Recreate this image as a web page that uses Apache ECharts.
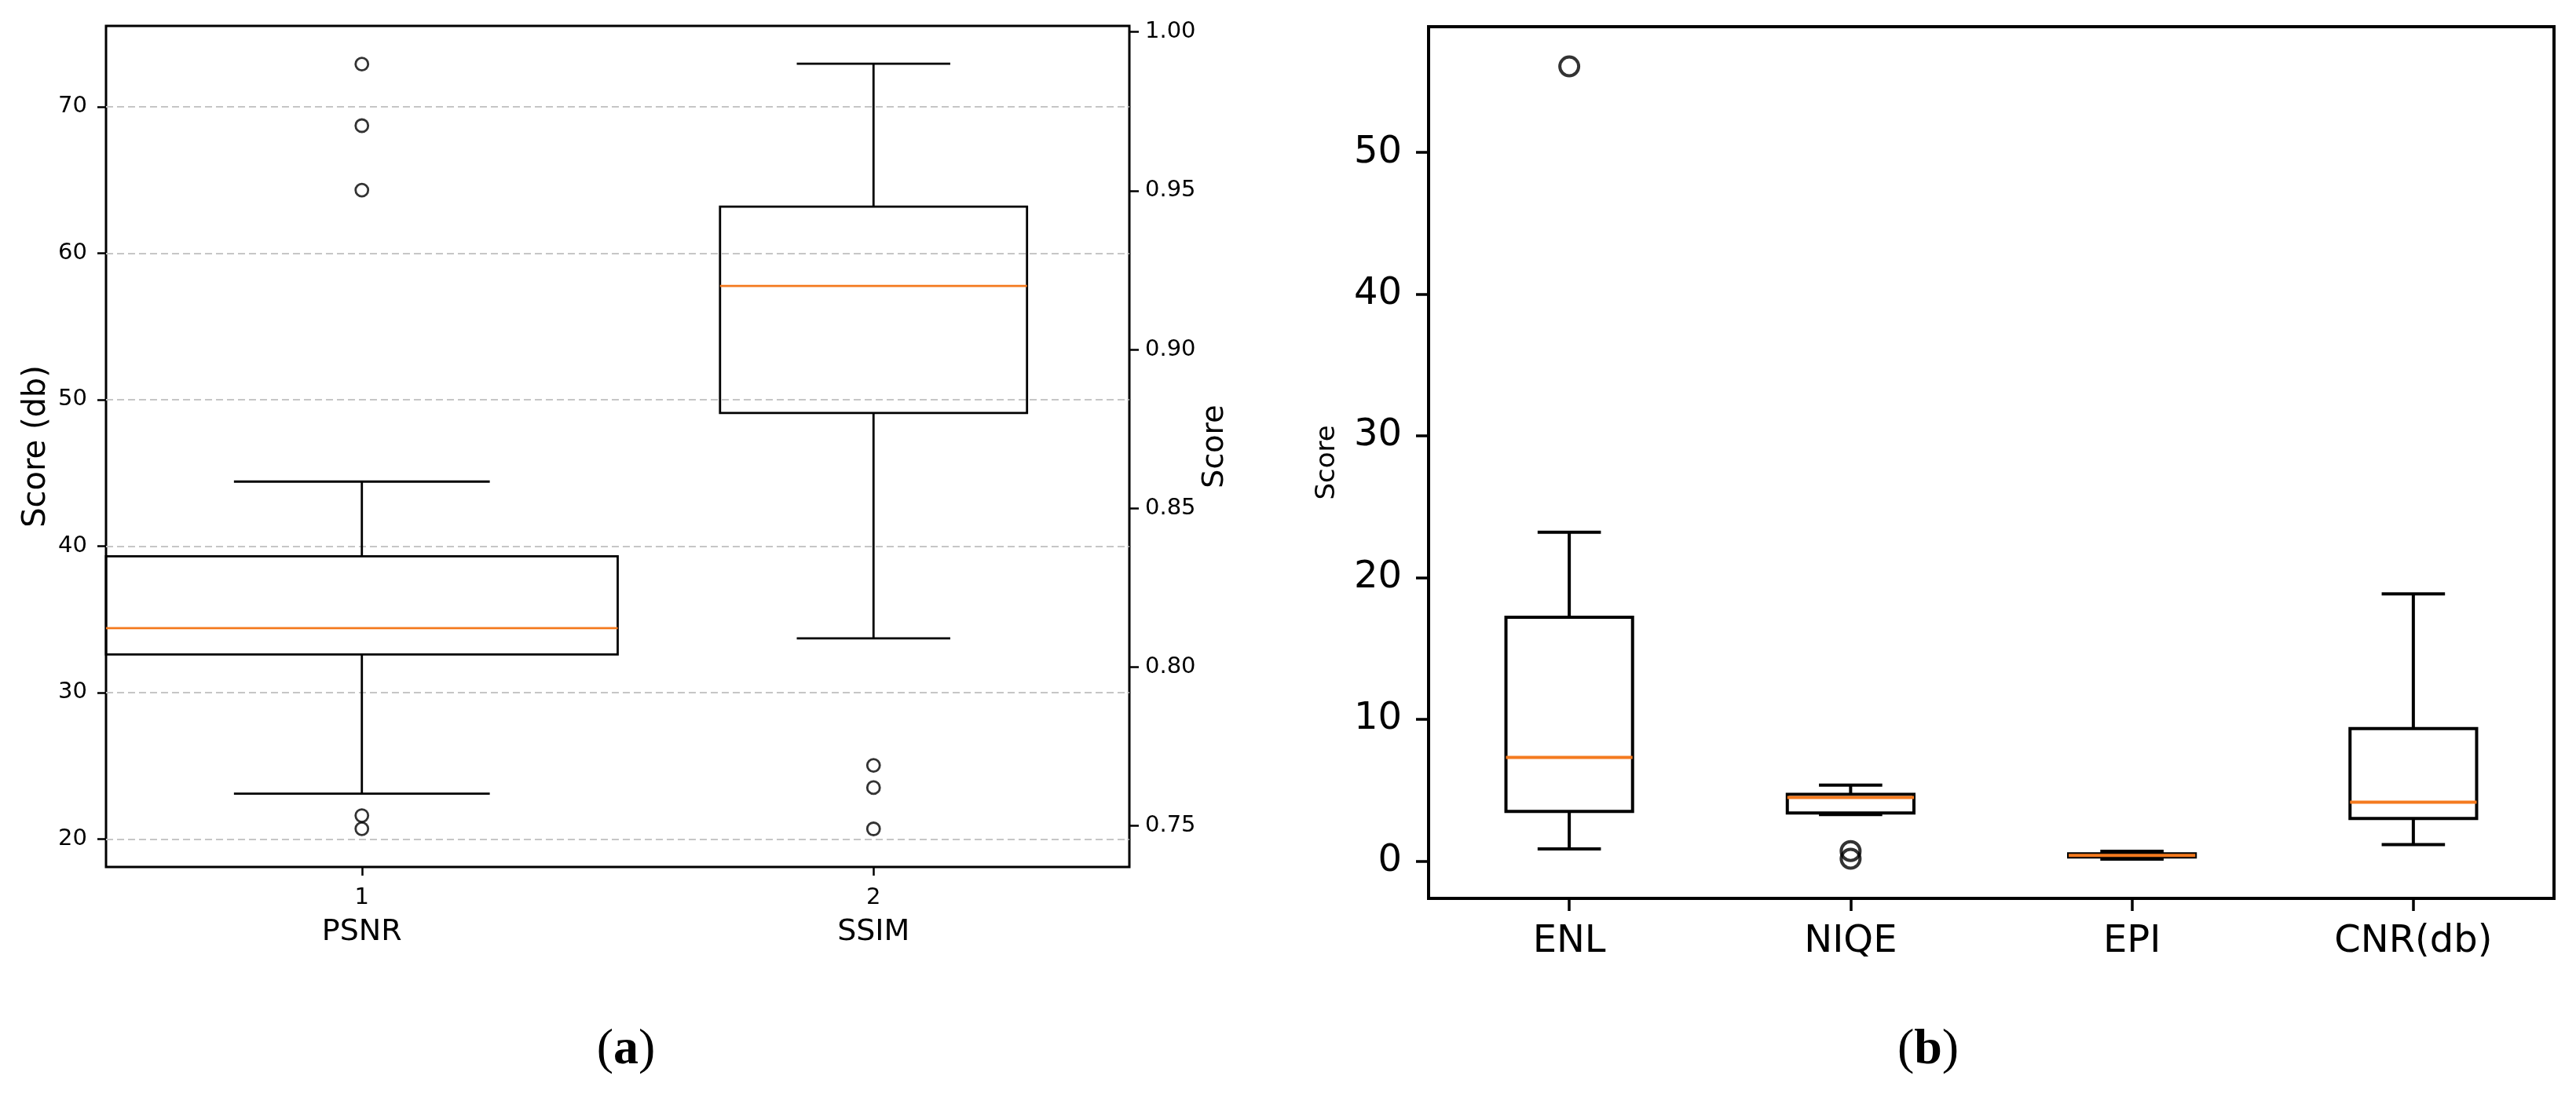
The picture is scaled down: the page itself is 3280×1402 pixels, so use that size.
<!DOCTYPE html>
<html>
<head>
<meta charset="utf-8">
<title>Score box plots</title>
<script src="https://cdn.jsdelivr.net/npm/echarts@6/dist/echarts.min.js"></script>
<style>
  html, body { margin: 0; padding: 0; background: #fff; }
  #chart { width: 3280px; height: 1402px; }
</style>
</head>
<body>
<div id="chart"></div>
<script>
// ---- panel (a): PSNR (left axis) and SSIM (right axis) ----
var groupTicks = ['1', '2'];
var groupNames = ['PSNR', 'SSIM'];
// whisker low, Q1, median, Q3, whisker high
var psnrBox = [23.1, 32.6, 34.4, 39.3, 44.4];
var psnrOutliers = [72.9, 68.7, 64.3, 21.6, 20.7];
var ssimBox = [0.809, 0.880, 0.920, 0.945, 0.990];
var ssimOutliers = [0.769, 0.762, 0.749];
var psnrTicks = [20, 30, 40, 50, 60, 70];
var ssimTicks = [0.75, 0.80, 0.85, 0.90, 0.95, 1.00];

// ---- panel (b): no-reference metrics ----
var metricNames = ['ENL', 'NIQE', 'EPI', 'CNR(db)'];
var enlBox = [0.85, 3.5, 7.3, 17.2, 23.2];
var niqeBox = [3.28, 3.38, 4.48, 4.7, 5.35];
var epiBox = [0.13, 0.28, 0.40, 0.5, 0.68];
var cnrBox = [1.15, 3.0, 4.15, 9.35, 18.85];
var enlOutliers = [56.07];
var niqeOutliers = [0.7, 0.156];
var metricTicks = [0, 10, 20, 30, 40, 50];

var ORANGE = '#f47a1f';
var SANS = 'DejaVu Sans';

// box drawn matplotlib-style: caps narrower than the box, orange median
function boxRenderer(boxFrac, capFrac, lw) {
    return function (params, api) {
        var x = api.value(0);
        var lo = api.coord([x, api.value(1)]);
        var q1 = api.coord([x, api.value(2)]);
        var md = api.coord([x, api.value(3)]);
        var q3 = api.coord([x, api.value(4)]);
        var hi = api.coord([x, api.value(5)]);
        var band = api.size([1, 0])[0];
        var bh = band * boxFrac / 2, ch = band * capFrac / 2;
        var cx = md[0];
        var black = { stroke: '#000', lineWidth: lw };
        return {
            type: 'group',
            children: [
                { type: 'line', shape: { x1: cx, y1: q3[1], x2: cx, y2: hi[1] }, style: black },
                { type: 'line', shape: { x1: cx, y1: q1[1], x2: cx, y2: lo[1] }, style: black },
                { type: 'line', shape: { x1: cx - ch, y1: hi[1], x2: cx + ch, y2: hi[1] }, style: black },
                { type: 'line', shape: { x1: cx - ch, y1: lo[1], x2: cx + ch, y2: lo[1] }, style: black },
                { type: 'rect', shape: { x: cx - bh, y: q3[1], width: 2 * bh, height: q1[1] - q3[1] },
                  style: { stroke: '#000', lineWidth: lw, fill: 'rgba(0,0,0,0)' } },
                { type: 'line', shape: { x1: cx - bh, y1: md[1], x2: cx + bh, y2: md[1] },
                  style: { stroke: ORANGE, lineWidth: lw } }
            ]
        };
    };
}

function points(idx, arr) {
    return arr.map(function (v) { return [idx, v]; });
}

var myChart = echarts.init(document.getElementById('chart'));

var option = {
    animation: false,
    backgroundColor: '#fff',
    grid: [
        { left: 135, top: 33, width: 1303, height: 1071, show: true, borderColor: '#000', borderWidth: 3,
          outerBoundsMode: 'none', containLabel: false },
        { left: 1819, top: 34, width: 1433, height: 1110, show: true, borderColor: '#000', borderWidth: 4,
          outerBoundsMode: 'none', containLabel: false }
    ],
    xAxis: [
        {
            type: 'category', gridIndex: 0, data: groupTicks, boundaryGap: true, position: 'bottom',
            axisLine: { show: false, onZero: false },
            axisTick: { show: true, alignWithLabel: true, length: 11, lineStyle: { color: '#000', width: 2.5 } },
            axisLabel: {
                margin: 20,
                formatter: function (v, i) { return '{n|' + v + '}\n{m|' + groupNames[i] + '}'; },
                rich: {
                    n: { fontFamily: SANS, fontSize: 29, color: '#000', lineHeight: 38 },
                    m: { fontFamily: SANS, fontSize: 38, color: '#000', lineHeight: 50 }
                }
            },
            splitLine: { show: false }
        },
        {
            type: 'category', gridIndex: 1, data: metricNames, boundaryGap: true, position: 'bottom',
            axisLine: { show: false, onZero: false },
            axisTick: { show: true, alignWithLabel: true, length: 16, lineStyle: { color: '#000', width: 3.5 } },
            axisLabel: { margin: 32, fontFamily: SANS, fontSize: 48, color: '#000' },
            splitLine: { show: false }
        }
    ],
    yAxis: [
        {
            type: 'value', gridIndex: 0, min: 18.09, max: 75.51,
            name: 'Score (db)', nameLocation: 'middle', nameGap: 68,
            nameTextStyle: { fontFamily: SANS, fontSize: 40, color: '#000' },
            axisLine: { show: false },
            axisTick: { show: true, length: 11, customValues: psnrTicks, lineStyle: { color: '#000', width: 2.5 } },
            axisLabel: { margin: 24, customValues: psnrTicks, fontFamily: SANS, fontSize: 29, color: '#000' },
            splitLine: { show: true, lineStyle: { color: '#c6c6c6', width: 2, type: [9, 5] } }
        },
        {
            type: 'value', gridIndex: 0, position: 'right', min: 0.7370, max: 1.0019,
            name: 'Score', nameLocation: 'middle', nameGap: 90, nameRotate: 90,
            nameTextStyle: { fontFamily: SANS, fontSize: 38, color: '#000' },
            axisLine: { show: false },
            axisTick: { show: true, length: 12, customValues: ssimTicks, lineStyle: { color: '#000', width: 2.5 } },
            axisLabel: {
                margin: 20, customValues: ssimTicks, fontFamily: SANS, fontSize: 29, color: '#000',
                formatter: function (v) { return v.toFixed(2); }
            },
            splitLine: { show: false }
        },
        {
            type: 'value', gridIndex: 1, min: -2.64, max: 58.87,
            name: 'Score', nameLocation: 'middle', nameGap: 112,
            nameTextStyle: { fontFamily: SANS, fontSize: 34, color: '#000' },
            axisLine: { show: false },
            axisTick: { show: true, length: 16, customValues: metricTicks, lineStyle: { color: '#000', width: 3.5 } },
            axisLabel: { margin: 34, customValues: metricTicks, fontFamily: SANS, fontSize: 48, color: '#000' },
            splitLine: { show: false }
        }
    ],
    series: [
        {
            type: 'custom', xAxisIndex: 0, yAxisIndex: 0,
            renderItem: boxRenderer(1.0, 0.5, 2.8),
            encode: { x: 0, y: [1, 2, 3, 4, 5] },
            data: [[0].concat(psnrBox)], z: 3
        },
        {
            type: 'custom', xAxisIndex: 0, yAxisIndex: 1,
            renderItem: boxRenderer(0.6, 0.3, 2.8),
            encode: { x: 0, y: [1, 2, 3, 4, 5] },
            data: [[1].concat(ssimBox)], z: 3
        },
        {
            type: 'scatter', xAxisIndex: 0, yAxisIndex: 0, symbol: 'circle', symbolSize: 16,
            itemStyle: { color: 'rgba(0,0,0,0)', borderColor: '#000', borderWidth: 2.8 },
            data: points(0, psnrOutliers), z: 4
        },
        {
            type: 'scatter', xAxisIndex: 0, yAxisIndex: 1, symbol: 'circle', symbolSize: 16,
            itemStyle: { color: 'rgba(0,0,0,0)', borderColor: '#000', borderWidth: 2.8 },
            data: points(1, ssimOutliers), z: 4
        },
        {
            type: 'custom', xAxisIndex: 1, yAxisIndex: 2,
            renderItem: boxRenderer(0.45, 0.225, 4),
            encode: { x: 0, y: [1, 2, 3, 4, 5] },
            data: [
                [0].concat(enlBox),
                [1].concat(niqeBox),
                [2].concat(epiBox),
                [3].concat(cnrBox)
            ],
            z: 3
        },
        {
            type: 'scatter', xAxisIndex: 1, yAxisIndex: 2, symbol: 'circle', symbolSize: 24,
            itemStyle: { color: 'rgba(0,0,0,0)', borderColor: '#000', borderWidth: 4 },
            data: points(0, enlOutliers).concat(points(1, niqeOutliers)), z: 4
        }
    ],
    graphic: [
        {
            type: 'text', x: 797, y: 1337,
            style: {
                text: '{p|(}{b|a}{p|)}', align: 'center', verticalAlign: 'middle',
                rich: {
                    p: { fontFamily: 'Liberation Serif', fontSize: 64, fill: '#000' },
                    b: { fontFamily: 'Liberation Serif', fontSize: 64, fontWeight: 'bold', fill: '#000' }
                }
            }
        },
        {
            type: 'text', x: 2455, y: 1337,
            style: {
                text: '{p|(}{b|b}{p|)}', align: 'center', verticalAlign: 'middle',
                rich: {
                    p: { fontFamily: 'Liberation Serif', fontSize: 64, fill: '#000' },
                    b: { fontFamily: 'Liberation Serif', fontSize: 64, fontWeight: 'bold', fill: '#000' }
                }
            }
        }
    ]
};

myChart.setOption(option);
</script>
</body>
</html>
